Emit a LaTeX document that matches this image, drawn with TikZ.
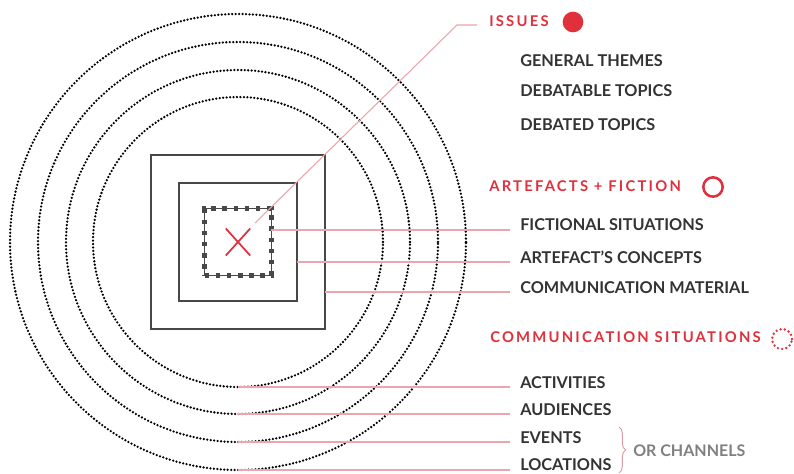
\documentclass[tikz,border=0pt]{standalone}
\usepackage{fontspec}
\setmainfont{Lato}
\newfontfamily\headfont[LetterSpace=15]{Lato}
\usetikzlibrary{positioning,shapes.misc,decorations.pathreplacing}
\definecolor{accent}{HTML}{E0303C}
\definecolor{pinkline}{HTML}{EBA5AD}
\definecolor{ink}{HTML}{333333}
\definecolor{boxgray}{HTML}{484848}

\begin{document}
\begin{tikzpicture}[x=0.75pt, y=-0.75pt,
ring/.style={circle, draw=black, line width=1.9pt, dash pattern=on 0pt off 2.6pt, line cap=round, inner sep=0pt, outer sep=0pt},
box/.style={rectangle, draw=boxgray, inner sep=0pt, outer sep=0pt},
item/.style={anchor=base west, inner sep=0pt, text=ink, font=\bfseries\fontsize{12.2}{14}\selectfont},
head/.style={anchor=base west, inner sep=0pt, text=accent, font=\headfont\bfseries\fontsize{11.1}{13}\selectfont},
link/.style={draw=pinkline, line width=0.8pt}
]
\useasboundingbox (0,0) rectangle (794,474);
\coordinate (c) at (238,242);
%Rings
\node[ring, minimum size=217.5pt] (ring1) at (c) {};
\node[ring, minimum size=258pt]   (ring2) at (c) {};
\node[ring, minimum size=300pt]   (ring3) at (c) {};
\node[ring, minimum size=342pt]   (ring4) at (c) {};
%Squares
\node[box, line width=1.5pt, minimum size=130.5pt] (outer) at (c) {};
\node[box, line width=1.1pt, minimum size=88.5pt]  (inner) at (c) {};
\node[box, line width=0.9pt, minimum size=50pt,
      postaction={draw=boxgray, line width=3.6pt, dash pattern=on 3.4pt off 4.93pt}] (core) at (c) {};
\node[cross out, draw=accent, line width=1.3pt, minimum width=17pt, minimum height=19pt] (x) at (c) {};
%Headings
\node[head] (issues) at (489,27)  {ISSUES};
\node[head] (artef)  at (489,192) {ARTEFACTS + FICTION};
\node[head] (comm)   at (490,343) {COMMUNICATION SITUATIONS};
\node[circle, fill=accent, minimum size=15.5pt, inner sep=0pt] (dot1) at (573,22) {};
\node[circle, draw=accent, line width=1.9pt, minimum size=14.5pt, inner sep=0pt] (dot2) at (713,187) {};
\node[circle, draw=accent, line width=2pt, dash pattern=on 0pt off 3.2pt, line cap=round, minimum size=15pt, inner sep=0pt] (dot3) at (782,339) {};
%Items
\node[item] (themes)  at (520,67)  {GENERAL THEMES};
\node[item] (debtble) at (520,97)  {DEBATABLE TOPICS};
\node[item] (debated) at (520,131) {DEBATED TOPICS};
\node[item] (fiction) at (520,231) {FICTIONAL SITUATIONS};
\node[item] (concept) at (520,264) {ARTEFACT’S CONCEPTS};
\node[item] (commat)  at (520,294) {COMMUNICATION MATERIAL};
\node[item] (activ)   at (520,389) {ACTIVITIES};
\node[item] (audien)  at (520,416) {AUDIENCES};
\node[item] (events)  at (520,444) {EVENTS};
\node[item] (locat)   at (520,471) {LOCATIONS};
\node[anchor=base west, inner sep=0pt, text=black!50, font=\bfseries\fontsize{12}{14}\selectfont] (chan) at (633,457) {OR CHANNELS};
%Lines
\coordinate (tip)  at (255,223);
\coordinate (bend) at (457,25);
\draw[link] (tip) -- (bend) -- ([xshift=-9pt]issues.base west |- bend);
\draw[link] (core.east |- 0,230)  -- ([xshift=-7.5pt]fiction.base west |- 0,230);
\draw[link] (inner.east |- 0,262) -- ([xshift=-7.5pt]concept.base west |- 0,262);
\draw[link] (outer.east |- 0,292) -- ([xshift=-7.5pt]commat.base west |- 0,292);
\draw[link] (ring1.south) -- ([xshift=-7.5pt]activ.base west |- ring1.south);
\draw[link] (ring2.south) -- ([xshift=-7.5pt]audien.base west |- ring2.south);
\draw[link] (ring3.south) -- ([xshift=-7.5pt]events.base west |- ring3.south);
\draw[link] (ring4.south) -- ([xshift=-7.5pt]locat.base west |- ring4.south);
\draw[draw=pinkline!80!gray, line width=0.7pt, decorate, decoration={brace, amplitude=5pt}] (619,427) -- (619,473);
\end{tikzpicture}
\end{document}
